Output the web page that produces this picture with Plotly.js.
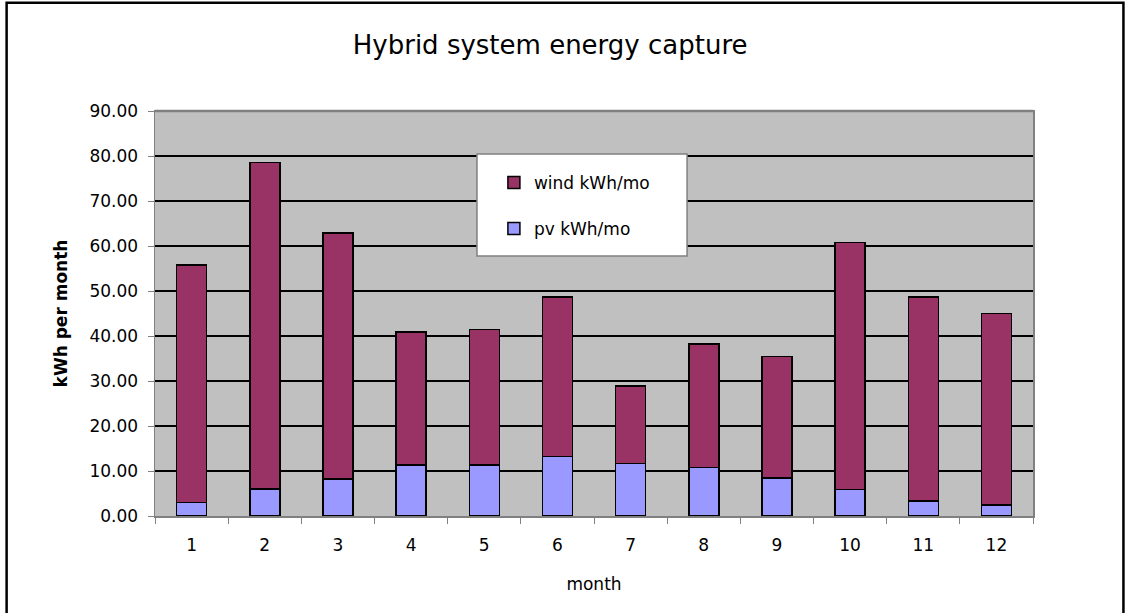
<!DOCTYPE html>
<html>
<head>
<meta charset="utf-8">
<script src="https://cdn.plot.ly/plotly-3.0.1.min.js"></script>
<style>
html,body{margin:0;padding:0;background:#fff;}
#chart{width:1126px;height:613px;}
</style>
</head>
<body>
<div id="chart"></div>
<script>
var months = ['1','2','3','4','5','6','7','8','9','10','11','12'];
var pvKWh = [3.0, 5.95, 8.2, 11.3, 11.3, 13.2, 11.7, 10.8, 8.4, 5.9, 3.35, 2.4];
var windKWh = [52.8, 72.65, 54.7, 29.6, 30.1, 35.5, 17.2, 27.4, 27.0, 54.9, 45.35, 42.6];
var yTicks = [0,10,20,30,40,50,60,70,80,90];

var FONT = 'DejaVu Sans, Verdana, sans-serif';

var traces = [
  {type:'bar', name:'pv kWh/mo', x:months, y:pvKWh, legendgroup:'pv', legendrank:2,
   marker:{color:'#9999FF', line:{color:'#000000', width:1.5}}},
  {type:'bar', name:'wind kWh/mo', x:months, y:windKWh, legendgroup:'wind', legendrank:1,
   marker:{color:'#993366', line:{color:'#000000', width:1.5}}}
];

var layout = {
  width:1126, height:613,
  margin:{l:155, r:93, t:111, b:97},
  paper_bgcolor:'#ffffff',
  plot_bgcolor:'#C0C0C0',
  barmode:'stack',
  bargap:0.59,
  font:{family:FONT, size:17, color:'#000'},
  title:{text:'Hybrid system energy capture', font:{family:FONT, size:26, color:'#000'},
         x:0.4886, xanchor:'center', y:0.9266, yanchor:'middle'},
  xaxis:{type:'category', tickson:'boundaries', ticks:'outside', ticklen:6, tickcolor:'#808080',
         showline:true, linecolor:'#808080', linewidth:1.5, mirror:true,
         tickfont:{family:FONT, size:17}, showgrid:false, ticklabelstandoff:13,
         title:{text:'month', font:{family:FONT, size:17}, standoff:24}},
  yaxis:{range:[0,90], tickvals:yTicks, ticktext:yTicks.map(function(v){return v.toFixed(2);}),
         ticks:'outside', ticklen:6, tickcolor:'#808080', ticklabelstandoff:6,
         showline:true, linecolor:'#808080', linewidth:1.5, mirror:true,
         showgrid:true, gridcolor:'#000000', gridwidth:2, zeroline:false,
         tickfont:{family:FONT, size:17},
         title:{text:'<b>kWh per month</b>', font:{family:FONT, size:17}, standoff:17}},
  legend:{x:0.386, y:0.867, xanchor:'left', yanchor:'top', bgcolor:'rgba(0,0,0,0)', borderwidth:0,
          traceorder:'grouped', tracegroupgap:21, font:{family:FONT, size:17}},
  shapes:[
    {type:'rect', xref:'paper', yref:'paper', x0:0.3667, x1:0.606, y0:0.642, y1:0.894,
     fillcolor:'#ffffff', line:{color:'#808080', width:1.5}, layer:'above'},
    {type:'line', xref:'paper', yref:'paper', x0:0, x1:1, y0:1, y1:1,
     line:{color:'#808080', width:2.5}, layer:'above'},
    {type:'rect', xref:'paper', yref:'paper', x0:-0.169, x1:1.103, y0:-0.3, y1:1.267,
     fillcolor:'rgba(0,0,0,0)', line:{color:'#000000', width:2.5}}
  ]
};

Plotly.newPlot('chart', traces, layout, {displayModeBar:false, staticPlot:true});
</script>
</body>
</html>
